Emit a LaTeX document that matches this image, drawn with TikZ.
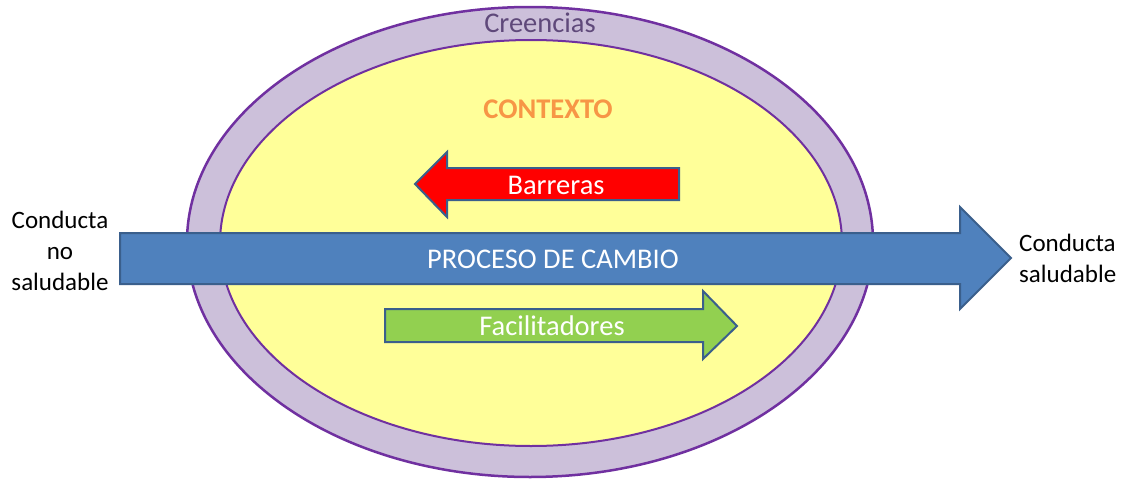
\documentclass[tikz,border=0pt]{standalone}
\usepackage{fontspec}
\setmainfont{Carlito}
\begin{document}
\begin{tikzpicture}[x=1pt,y=-1pt,
  lbl/.style={font=\fontsize{25}{31}\selectfont, inner sep=0pt},
  big/.style={font=\fontsize{28.5}{34}\selectfont, inner sep=0pt},
  wlbl/.style={big, text=white},
  arrowshape/.style={draw=arrowedge, line width=2pt, line join=miter}]
\definecolor{ringfill}{HTML}{CCC0DA}
\definecolor{ringedge}{HTML}{7030A0}
\definecolor{ctxfill}{HTML}{FFFF99}
\definecolor{bluefill}{HTML}{4F81BD}
\definecolor{arrowedge}{HTML}{3A5F8C}
\definecolor{greenfill}{HTML}{92D050}
\definecolor{ctxtext}{HTML}{F79646}
\definecolor{beltext}{HTML}{5F497A}
\useasboundingbox (0,0) rectangle (1122,479);
% ellipses
\fill[white] (0,0) rectangle (1122,479);
\draw[ringedge, line width=2.5pt, fill=ringfill] (530,242) ellipse [x radius=343, y radius=235];
\draw[ringedge, line width=2pt, fill=ctxfill] (531,243) ellipse [x radius=311, y radius=203];
% blue arrow
\draw[arrowshape, fill=bluefill] (120,233) -- (960,233) -- (960,207) -- (1011,258) -- (960,309) -- (960,284) -- (120,284) -- cycle;
% red arrow
\draw[arrowshape, fill=red] (679,168) -- (447,168) -- (447,152) -- (415,184) -- (447,217) -- (447,200) -- (679,200) -- cycle;
% green arrow
\draw[arrowshape, fill=greenfill] (385,309) -- (703,309) -- (703,291) -- (737,326) -- (703,359) -- (703,342) -- (385,342) -- cycle;
% texts
\node[big, text=beltext] (creencias) at (540,23) {Creencias};
\node[big, text=ctxtext, font=\fontsize{28.5}{34}\selectfont\bfseries] (contexto) at (548,109) {CONTEXTO};
\node[wlbl] (barreras) at (556,185) {Barreras};
\node[wlbl] (proceso) at (553,259) {PROCESO DE CAMBIO};
\node[wlbl] (facil) at (552,326) {Facilitadores};
\node[lbl, align=center] (noSal) at (60,251) {Conducta\\no\\saludable};
\node[lbl, align=left, anchor=west] (sal) at (1019,258) {Conducta\\saludable};
\end{tikzpicture}
\end{document}
